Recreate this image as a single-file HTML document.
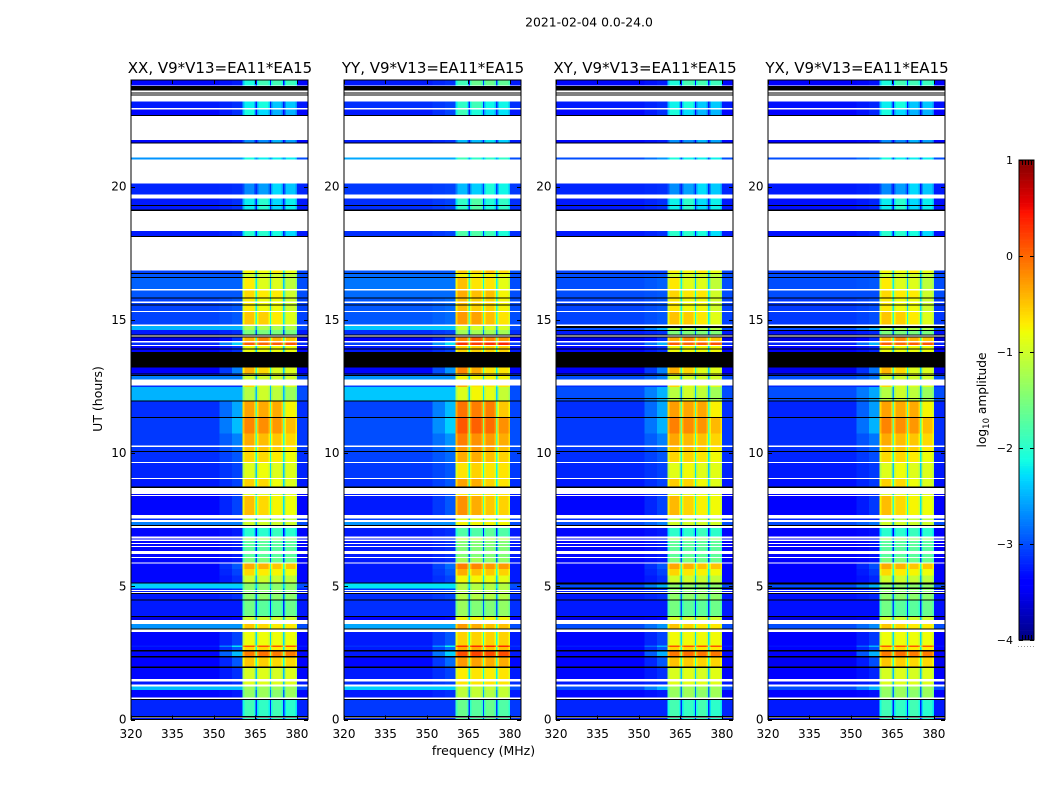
<!DOCTYPE html>
<html>
<head>
<meta charset="utf-8">
<title>2021-02-04 0.0-24.0</title>
<style>
html,body{margin:0;padding:0;background:#fff;width:1050px;height:800px;overflow:hidden}
svg{display:block}
text{font-family:"DejaVu Sans","Liberation Sans",sans-serif;fill:#000}
</style>
</head>
<body>
<svg id="fig" xmlns="http://www.w3.org/2000/svg" width="1050" height="800" viewBox="0 0 1050 800">
<rect width="1050" height="800" fill="#fff"/>
<text x="589" y="26.500" font-size="12.4" text-anchor="middle">2021-02-04 0.0-24.0</text>
<text x="483.500" y="755" font-size="12.5" text-anchor="middle">frequency (MHz)</text>
<text transform="translate(102,399) rotate(-90)" font-size="12.5" text-anchor="middle">UT (hours)</text>
<text transform="translate(986,400) rotate(-90)" font-size="12.2" text-anchor="middle">log<tspan font-size="8.500" dy="3">10</tspan><tspan dy="-3"> amplitude</tspan></text>
</svg>
<script>
// Values (log10 amplitude); hours run bottom to top.
const panelTitles = ["XX, V9*V13=EA11*EA15", "YY, V9*V13=EA11*EA15", "XY, V9*V13=EA11*EA15", "YX, V9*V13=EA11*EA15"];
const panelSignalOffset = [0, 0.24, 0.02, 0.0];
const panelBackgroundOffset = [-0.15, -0.05, -0.15, -0.2];
const panelBackgroundCeiling = [0, 0, -3.0, -3.0];
const xTickValues = [320, 335, 350, 365, 380];
const yTickValues = [0, 5, 10, 15, 20];
const colorbarTickValues = [1, 0, -1, -2, -3, -4];
const colorbarTickLabels = ["1", "0", "\u22121", "\u22122", "\u22123", "\u22124"];

// [start h, end h, background, transition, subband1, subband2, subband3, subband4]
const dataBands = [
[0,0.05,-3.1,-3.1,-1.9,-2.0,-1.9,-2.0],
[0.13,0.73,-3.05,-3.05,-1.85,-1.95,-1.85,-2.0],
[0.83,1.11,-3.2,-3.1,-1.35,-1.3,-1.4,-1.3],
[1.11,1.23,-2.3,-2.3,-1.3,-1.3,-1.3,-1.3],
[1.32,1.43,-3.1,-3.0,-0.9,-0.9,-0.9,-0.9],
[1.52,1.94,-3.2,-3.0,-0.95,-0.9,-0.95,-0.9],
[1.98,2.33,-3.3,-2.8,-0.5,-0.55,-0.6,-0.6],
[2.39,2.56,-3.2,-2.3,-0.1,-0.05,-0.1,-0.1],
[2.6,2.73,-3.2,-2.8,-0.6,-0.6,-0.7,-0.7],
[2.73,2.77,-3.1,-2.1,0.1,0.1,0.1,0.1],
[2.77,3.29,-3.2,-2.9,-0.8,-0.8,-0.8,-0.8],
[3.42,3.58,-2.5,-2.5,-0.5,-0.6,-0.7,-0.7],
[3.73,3.84,-3.4,-3.3,-1.0,-1.0,-1.0,-1.0],
[3.88,4.48,-3.1,-3.1,-1.55,-1.7,-1.7,-1.6],
[4.5,4.71,-3.1,-3.0,-1.4,-1.4,-1.4,-1.4],
[4.79,4.83,-3.1,-3.0,-1.4,-1.4,-1.4,-1.4],
[4.86,4.92,-3.1,-3.0,-1.4,-1.4,-1.4,-1.4],
[4.92,5.11,-2.2,-2.2,-1.4,-1.4,-1.4,-1.4],
[5.15,5.4,-3.2,-3.0,-1.0,-1.0,-1.05,-1.1],
[5.4,5.65,-3.2,-2.9,-0.6,-0.7,-0.75,-0.8],
[5.65,5.86,-3.2,-2.8,-0.35,-0.4,-0.5,-0.5],
[5.9,6.06,-3.2,-3.1,-1.5,-1.5,-1.6,-1.6],
[6.09,6.21,-3.2,-3.1,-1.7,-1.7,-1.7,-1.7],
[6.33,6.48,-3.2,-3.1,-1.7,-1.7,-1.7,-1.7],
[6.52,6.58,-3.2,-3.1,-1.7,-1.7,-1.7,-1.7],
[6.63,6.7,-3.2,-3.1,-1.7,-1.7,-1.7,-1.7],
[6.75,6.8,-3.2,-3.1,-1.2,-1.2,-1.3,-1.3],
[6.86,7.19,-3.2,-3.1,-2.0,-2.0,-1.9,-2.0],
[7.3,7.42,-2.6,-2.6,-1.0,-1.0,-1.0,-1.0],
[7.48,7.54,-3.0,-3.0,-1.1,-1.1,-1.1,-1.1],
[7.67,8.38,-3.2,-2.9,-0.45,-0.6,-0.75,-0.8],
[8.42,8.46,-3.2,-3.0,-0.9,-0.9,-0.9,-0.9],
[8.75,9.02,-3.1,-2.9,-0.55,-0.6,-0.8,-0.9],
[9.06,9.62,-3.05,-2.9,-0.9,-0.8,-0.9,-0.9],
[9.66,10.03,-3.0,-2.8,-0.6,-0.6,-0.7,-0.8],
[10.07,10.23,-2.95,-2.7,-0.5,-0.5,-0.55,-0.7],
[10.28,10.74,-2.95,-2.6,-0.35,-0.45,-0.5,-0.6],
[10.74,11.32,-2.95,-2.3,-0.15,-0.2,-0.25,-0.45],
[11.36,11.93,-3.0,-2.4,-0.3,-0.35,-0.35,-0.75],
[11.98,12.48,-2.35,-2.35,-1.15,-1.0,-1.1,-1.3],
[12.48,12.54,-3.0,-3.0,-0.6,-0.9,-0.9,-0.9],
[12.76,12.9,-2.6,-2.6,-1.0,-1.0,-1.0,-1.0],
[12.93,12.97,-3.0,-3.0,-0.9,-0.9,-0.9,-0.9],
[12.98,13.21,-3.3,-2.6,-0.4,-0.6,-0.9,-0.9],
[13.79,13.88,-3.2,-3.0,-0.8,-0.8,-0.8,-0.8],
[13.92,14.01,-3.2,-3.0,-0.8,-0.8,-0.8,-0.8],
[14.06,14.15,-3.0,-2.2,0.05,0.0,0.05,0.1],
[14.2,14.36,-3.4,-3.0,-0.4,-0.2,-0.4,-0.5],
[14.45,14.61,-3.1,-3.0,-1.5,-1.5,-1.5,-1.5],
[14.61,14.77,-2.35,-2.35,-1.2,-1.2,-1.2,-1.2],
[14.82,15.3,-2.9,-2.8,-0.5,-0.55,-0.7,-0.9],
[15.34,15.53,-2.9,-2.8,-0.7,-0.8,-0.8,-1.0],
[15.58,15.64,-2.9,-2.8,-0.7,-0.8,-0.8,-1.0],
[15.69,15.8,-2.9,-2.8,-0.7,-0.8,-0.8,-1.0],
[15.83,16.1,-2.8,-2.8,-0.6,-0.7,-0.7,-1.0],
[16.15,16.57,-2.75,-2.75,-0.7,-0.9,-0.9,-1.1],
[16.61,16.72,-2.8,-2.8,-1.0,-1.0,-1.0,-1.1],
[16.76,16.85,-2.9,-2.9,-0.75,-0.8,-0.7,-0.85],
[18.15,18.34,-3.1,-3.0,-2.0,-2.0,-2.1,-2.3],
[19.14,19.55,-3.1,-3.0,-2.2,-2.0,-2.3,-2.2],
[19.71,20.11,-3.05,-3.0,-2.7,-2.6,-2.3,-2.4],
[21.02,21.1,-2.5,-2.5,-2.1,-2.2,-2.2,-2.2],
[21.66,21.74,-3.2,-3.1,-2.7,-2.7,-2.5,-2.6],
[22.69,22.89,-3.2,-3.0,-2.1,-2.3,-2.5,-2.5],
[22.94,23.2,-3.1,-3.0,-2.2,-2.1,-2.4,-2.4],
[23.79,24,-3.2,-3.1,-2.1,-1.85,-1.85,-1.9]
];

// Fully flagged-black time ranges, all panels
const blackBands = [
[0.08,0.13],[0.73,0.76],[1.94,1.98],[2.33,2.39],[2.56,2.6],[3.38,3.42],[3.84,3.88],[4.48,4.5],
[4.71,4.74],[5.11,5.15],[7.27,7.3],[8.69,8.75],[10.03,10.07],[11.32,11.36],[11.93,11.98],
[12.9,12.93],[12.97,12.99],[13.21,13.79],[13.88,13.92],[14.36,14.38],[14.42,14.45],[15.53,15.58],
[15.8,15.83],[16.57,16.61],[16.72,16.76],[18.1,18.15],[19.08,19.14],[19.27,19.3],[21.61,21.66],
[22.64,22.69],[23.42,23.46],[23.5,23.54],[23.6,23.77]
];
// Extra black ranges seen only in the XY and YX panels
const crossHandBlackBands = [[4.9,4.95],[5.07,5.11],[14.58,14.62],[14.7,14.77],[12.02,12.06]];

const FREQ_MIN = 320, FREQ_MAX = 384, TIME_MIN = 0, TIME_MAX = 24;
const COLOR_MIN = -4, COLOR_MAX = 1;
const panelLefts = [131, 344, 556, 768];
const PANEL_W = 177, PLOT_TOP = 80, PLOT_H = 639.5;
const CB_LEFT = 1019, CB_W = 15, CB_TOP = 160, CB_H = 480;

const subbandEdges = [[360.4,365],[365.5,370.2],[370.7,375],[375.5,380]];
const stripeEdges = [[365,365.5],[370.2,370.7],[375,375.5]];
const subbandProfile = [[0,0.12,-0.3],[0.12,0.88,0],[0.88,1,-0.25]];

const NS = "http://www.w3.org/2000/svg";
const fig = document.getElementById("fig");

function xScale(p, f){ return panelLefts[p] + (f - FREQ_MIN) / (FREQ_MAX - FREQ_MIN) * PANEL_W; }
function yScale(h){ return PLOT_TOP + PLOT_H - (h - TIME_MIN) / (TIME_MAX - TIME_MIN) * PLOT_H; }
function cbScale(v){ return CB_TOP + CB_H - (v - COLOR_MIN) / (COLOR_MAX - COLOR_MIN) * CB_H; }

function jet(v){
  const t = Math.max(0, Math.min(1, (v - COLOR_MIN) / (COLOR_MAX - COLOR_MIN)));
  function lerp(pts){
    for (let i = 1; i < pts.length; i++) {
      if (t <= pts[i][0]) {
        const a = pts[i-1], b = pts[i];
        return a[1] + (b[1] - a[1]) * (t - a[0]) / (b[0] - a[0]);
      }
    }
    return pts[pts.length-1][1];
  }
  const r = lerp([[0,0],[0.35,0],[0.66,1],[0.89,1],[1,0.5]]);
  const g = lerp([[0,0],[0.125,0],[0.375,1],[0.64,1],[0.91,0],[1,0]]);
  const b = lerp([[0,0.5],[0.11,1],[0.34,1],[0.65,0],[1,0]]);
  return "rgb(" + Math.round(r*255) + "," + Math.round(g*255) + "," + Math.round(b*255) + ")";
}

function cell(parent, p, f0, f1, t0, t1, value){
  const x0 = xScale(p, f0), x1 = xScale(p, f1), y0 = yScale(t1), y1 = yScale(t0);
  const r = document.createElementNS(NS, "rect");
  r.setAttribute("x", x0);
  r.setAttribute("y", y0);
  r.setAttribute("width", x1 - x0);
  r.setAttribute("height", Math.max(0.5, y1 - y0));
  r.setAttribute("fill", jet(value));
  r.setAttribute("shape-rendering", "crispEdges");
  
  
  parent.appendChild(r);
}

function blackRow(parent, p, t0, t1){
  const y0 = yScale(t1), y1 = yScale(t0);
  const r = document.createElementNS(NS, "rect");
  r.setAttribute("x", panelLefts[p]);
  r.setAttribute("y", y0);
  r.setAttribute("width", PANEL_W);
  r.setAttribute("height", Math.max(1, y1 - y0));
  r.setAttribute("fill", "#000");
  r.setAttribute("shape-rendering", "crispEdges");
  
  
  parent.appendChild(r);
}

function line(parent, x1, y1, x2, y2){
  const l = document.createElementNS(NS, "line");
  l.setAttribute("x1", x1);
  l.setAttribute("y1", y1);
  l.setAttribute("x2", x2);
  l.setAttribute("y2", y2);
  l.setAttribute("stroke", "#000");
  l.setAttribute("stroke-width", "1");
  
  
  parent.appendChild(l);
}

function label(parent, x, y, str, anchor, size){
  const t = document.createElementNS(NS, "text");
  t.setAttribute("x", x);
  t.setAttribute("y", y);
  t.setAttribute("text-anchor", anchor);
  t.setAttribute("font-size", size);
  t.textContent = str;
  
  
  parent.appendChild(t);
}

panelTitles.forEach(function(title, p){
  const g = document.createElementNS(NS, "g");
  
  
  fig.appendChild(g);

  dataBands.forEach(function(band){
    const t0 = band[0], t1 = band[1];
    let bg = band[2] + panelBackgroundOffset[p];
    let tr = band[3] + panelBackgroundOffset[p];
    if (panelBackgroundCeiling[p] !== 0) {
      bg = Math.min(bg, panelBackgroundCeiling[p]);
      tr = Math.min(tr, panelBackgroundCeiling[p] + 0.5);
    }
    const signals = band.slice(4).map(function(s){ return s + panelSignalOffset[p]; });
    cell(g, p, 320, 352, t0, t1, bg);
    cell(g, p, 352, 356.5, t0, t1, (bg + tr) / 2);
    cell(g, p, 356.5, 360.4, t0, t1, tr);
    subbandEdges.forEach(function(edges, i){
      const w = edges[1] - edges[0];
      subbandProfile.forEach(function(part){
        cell(g, p, edges[0] + part[0]*w, edges[0] + part[1]*w, t0, t1, signals[i] + part[2]);
      });
    });
    stripeEdges.forEach(function(edges, i){
      cell(g, p, edges[0], edges[1], t0, t1, Math.max(bg, signals[i] - 1.5));
    });
    cell(g, p, 380, 384, t0, t1, Math.min(bg, -3.0));
  });

  blackBands.forEach(function(b){ blackRow(g, p, b[0], b[1]); });
  if (p >= 2) {
    crossHandBlackBands.forEach(function(b){ blackRow(g, p, b[0], b[1]); });
  }

  const frame = document.createElementNS(NS, "rect");
  frame.setAttribute("x", panelLefts[p]);
  frame.setAttribute("y", PLOT_TOP);
  frame.setAttribute("width", PANEL_W);
  frame.setAttribute("height", PLOT_H);
  frame.setAttribute("fill", "none");
  frame.setAttribute("stroke", "#000");
  frame.setAttribute("stroke-width", "1");
  
  
  g.appendChild(frame);

  xTickValues.forEach(function(v){
    const x = Math.round(xScale(p, v)) + 0.5;
    line(g, x, PLOT_TOP + PLOT_H, x, PLOT_TOP + PLOT_H - 4);
    line(g, x, PLOT_TOP, x, PLOT_TOP + 4);
    label(g, xScale(p, v), 738, String(v), "middle", 12);
  });
  yTickValues.forEach(function(v){
    const y = Math.round(yScale(v)) + 0.5;
    line(g, panelLefts[p], y, panelLefts[p] + 4, y);
    line(g, panelLefts[p] + PANEL_W, y, panelLefts[p] + PANEL_W - 4, y);
    label(g, panelLefts[p] - 4.5, yScale(v) + 4, String(v), "end", 12);
  });

  const tt = document.createElementNS(NS, "text");
  tt.setAttribute("x", panelLefts[p] + PANEL_W / 2 + 0.5);
  tt.setAttribute("y", 73);
  tt.setAttribute("text-anchor", "middle");
  tt.setAttribute("font-size", "15");
  tt.textContent = title;
  
  
  g.appendChild(tt);
});

// Colorbar
const cb = document.createElementNS(NS, "g");


fig.appendChild(cb);
for (let i = 0; i < 256; i++) {
  const v0 = COLOR_MIN + (COLOR_MAX - COLOR_MIN) * i / 256;
  const v1 = COLOR_MIN + (COLOR_MAX - COLOR_MIN) * (i + 1) / 256;
  const r = document.createElementNS(NS, "rect");
  r.setAttribute("x", CB_LEFT);
  r.setAttribute("y", cbScale(v1));
  r.setAttribute("width", CB_W);
  r.setAttribute("height", cbScale(v0) - cbScale(v1) + 0.3);
  r.setAttribute("fill", jet((v0 + v1) / 2));
  
  
  cb.appendChild(r);
}
const cbFrame = document.createElementNS(NS, "rect");
cbFrame.setAttribute("x", CB_LEFT);
cbFrame.setAttribute("y", CB_TOP);
cbFrame.setAttribute("width", CB_W);
cbFrame.setAttribute("height", CB_H);
cbFrame.setAttribute("fill", "none");
cbFrame.setAttribute("stroke", "#000");


cb.appendChild(cbFrame);
colorbarTickValues.forEach(function(v, i){
  const y = Math.round(cbScale(v)) + 0.5;
  line(cb, CB_LEFT, y, CB_LEFT + 4, y);
  line(cb, CB_LEFT + CB_W, y, CB_LEFT + CB_W - 4, y);
  label(cb, 1013, cbScale(v) + 4, colorbarTickLabels[i], "end", 11);
});
[3, 6, 9, 12].forEach(function(dx){
  line(cb, CB_LEFT + dx + 0.5, CB_TOP, CB_LEFT + dx + 0.5, CB_TOP + 5);
  line(cb, CB_LEFT + dx + 0.5, CB_TOP + CB_H, CB_LEFT + dx + 0.5, CB_TOP + CB_H - 5);
});
const dots = document.createElementNS(NS, "line");
dots.setAttribute("x1", 1018);
dots.setAttribute("y1", 646.5);
dots.setAttribute("x2", 1035);
dots.setAttribute("y2", 646.5);
dots.setAttribute("stroke", "#999");
dots.setAttribute("stroke-dasharray", "1 2");


cb.appendChild(dots);
</script>
</body>
</html>
